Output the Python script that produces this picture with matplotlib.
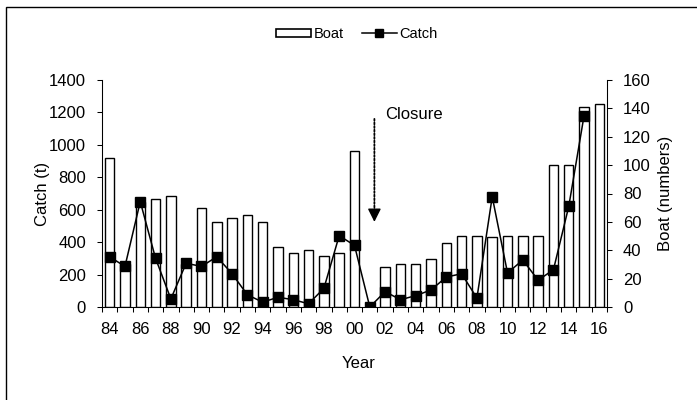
import numpy as np
import matplotlib
matplotlib.use("Agg")
import matplotlib.pyplot as plt
from matplotlib.patches import Patch, Rectangle
from matplotlib.lines import Line2D

plt.rcParams['font.family'] = ['Liberation Sans', 'DejaVu Sans']

# year labels 1984-2016
years = ["84", "85", "86", "87", "88", "89", "90", "91", "92", "93", "94",
         "95", "96", "97", "98", "99", "00", "01", "02", "03", "04", "05",
         "06", "07", "08", "09", "10", "11", "12", "13", "14", "15", "16"]

# catch (t), left axis
catch = [310, 250, 650, 300, 50, 270, 250, 310, 205, 75, 30,
         60, 45, 20, 115, 440, 380, 0, 95, 45, 70, 105,
         185, 205, 55, 680, 210, 290, 165, 230, 620, 1180, np.nan]

# boats (numbers), right axis
boat = [105, 30, 74, 76, 78, 30, 70, 60, 63, 65, 60,
        42, 38, 40, 36, 38, 110, 0, 28, 30, 30, 34,
        45, 50, 50, 49, 50, 50, 50, 100, 100, 141, 143]

x = np.arange(len(years))

fig = plt.figure(figsize=(6.97, 4.0), dpi=100)
ax = fig.add_axes([102/697, 1 - 307/400, 505/697, 227/400])
ax2 = ax.twinx()

# bars on the right axis, drawn underneath the catch line
ax2.bar(x, boat, width=0.62, color='white', edgecolor='black', linewidth=1.0)
ax2.set_ylim(0, 160)
ax2.set_yticks(np.arange(0, 161, 20))
ax2.set_ylabel("Boat (numbers)", fontsize=12)

ax.set_zorder(ax2.get_zorder() + 1)
ax.patch.set_visible(False)
ax.plot(x, catch, color='black', lw=1.1, marker='s', markersize=7,
        markerfacecolor='black', markeredgecolor='black')
ax.set_ylim(0, 1400)
ax.set_yticks(np.arange(0, 1401, 200))
ax.set_xlim(-0.5, len(years) - 0.5)
ax.set_ylabel("Catch (t)", fontsize=12)
ax.set_xlabel("Year", fontsize=12)

# tick marks at category boundaries, labels every second year
ax.set_xticks(np.arange(-0.5, len(years), 1))
ax.set_xticklabels([])
ax.set_xticks(x[::2], minor=True)
ax.set_xticklabels(years[::2], minor=True)
ax.tick_params(axis='x', which='major', length=3.6, width=0.75, direction='out')
ax.tick_params(axis='x', which='minor', length=0, pad=11, labelsize=12)
ax.tick_params(axis='y', length=3.6, width=0.75, pad=8, labelsize=12)
ax2.tick_params(axis='y', length=3.6, width=0.75, pad=8, labelsize=12)

for a in (ax, ax2):
    a.spines['top'].set_visible(False)
    for s in ('left', 'right', 'bottom'):
        a.spines[s].set_linewidth(0.75)

ax.yaxis.set_label_coords((42 - 102) / 505, 0.5)
ax.yaxis.label.set_va('center')
ax2.yaxis.set_label_coords((665 - 102) / 505, 0.5)
ax2.yaxis.label.set_va('center')
ax.xaxis.set_label_coords((359 - 102) / 505, (307 - 363) / 227)
ax.xaxis.label.set_va('center')

# closure marker: dotted shaft plus solid head
ax.annotate("", xy=(17.3, 580), xytext=(17.3, 1160),
            arrowprops=dict(arrowstyle='-', linestyle=(0, (1, 1)), color='black', lw=1.3,
                            shrinkA=0, shrinkB=0))
ax.annotate("", xy=(17.3, 525), xytext=(17.3, 590),
            arrowprops=dict(arrowstyle='-|>,head_width=0.4,head_length=0.8',
                            color='black', lw=1.0, shrinkA=0, shrinkB=0))
ax.text(18.0, 1190, "Closure", fontsize=12, ha='left', va='center')

handles = [Patch(facecolor='white', edgecolor='black', linewidth=1.2, label='Boat'),
           Line2D([], [], color='black', lw=1.1, marker='s', markersize=6, label='Catch')]
fig.legend(handles=handles, loc='center', bbox_to_anchor=(357/697, 1 - 34/400),
           ncol=2, frameon=False, fontsize=10.5, handlelength=2.4, handleheight=0.5,
           handletextpad=0.2, columnspacing=1.2)

# outer frame (only left and top edges fall inside the picture)
fig.add_artist(Rectangle((6/697, -0.1), 1.2, 1.1 - 7/400, transform=fig.transFigure,
                         fill=False, edgecolor='black', linewidth=1.0))

fig.savefig("out.png", dpi=100)
